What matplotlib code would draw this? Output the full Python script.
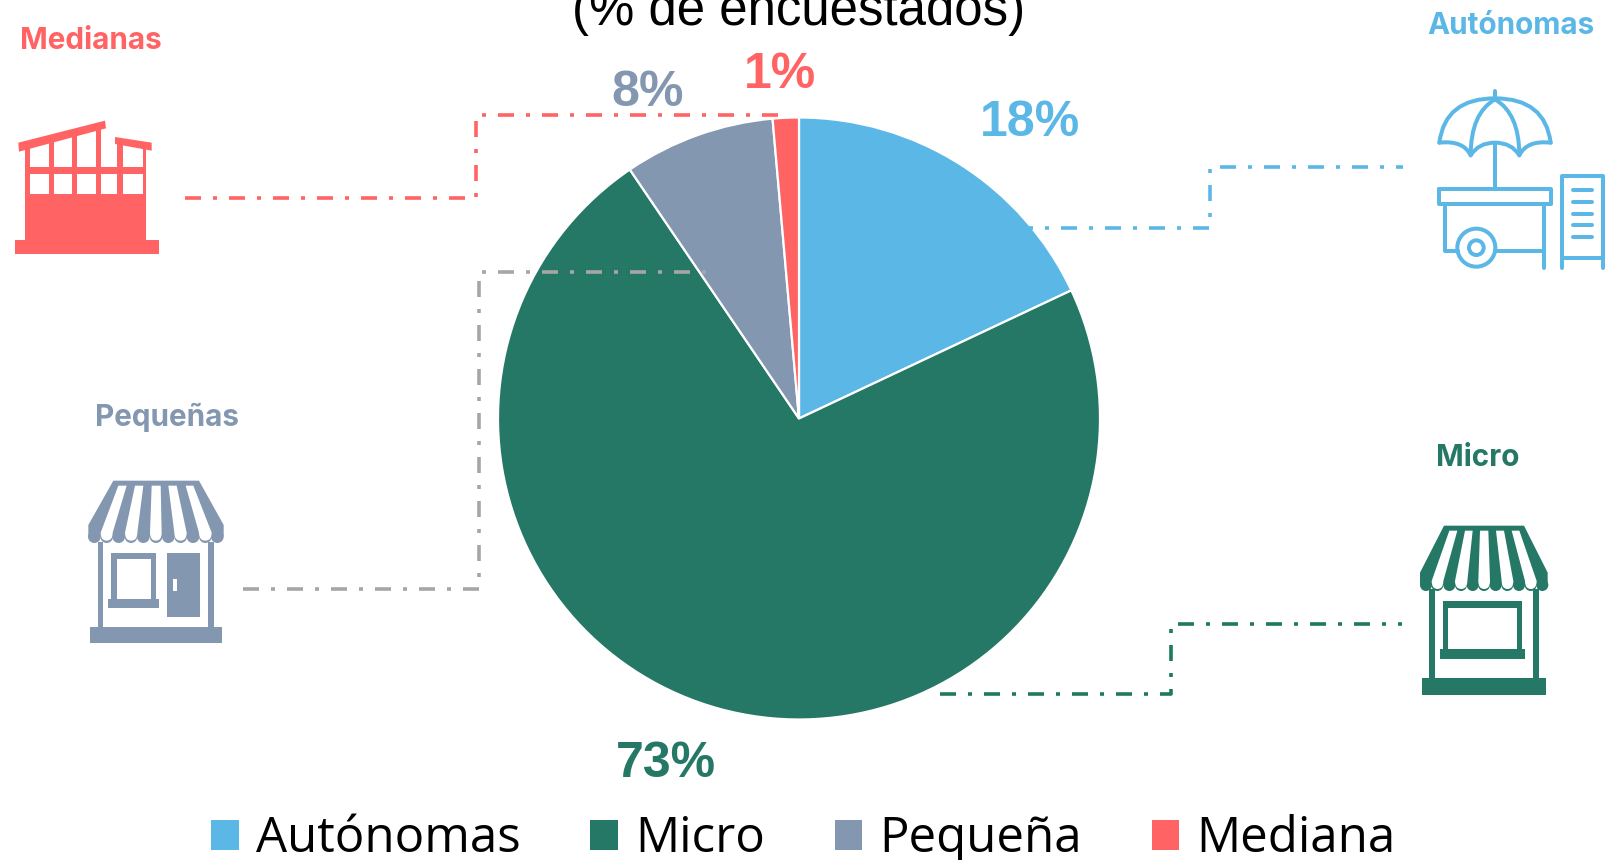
import numpy as np
import matplotlib
matplotlib.use("Agg")
import matplotlib.pyplot as plt
from matplotlib.path import Path
from matplotlib.patches import PathPatch, Polygon, Rectangle, Circle, Patch

categories = ["Autónomas", "Micro", "Pequeña", "Mediana"]
shares = [18.0, 72.5, 8.1, 1.4]
pct_labels = ["18%", "73%", "8%", "1%"]
colors = ["#5BB7E6", "#257766", "#8497B0", "#FF6363"]
title = "(% de encuestados)"

W, H = 1605, 860
fig = plt.figure(figsize=(W / 100, H / 100), dpi=100, facecolor="white")
SANS = ["Open Sans", "DejaVu Sans"]
ARIAL = ["Liberation Sans", "DejaVu Sans"]
INTER = ["Inter", "DejaVu Sans"]

# pie
cx, cy, R = 799, 418.5, 301
ax = fig.add_axes([(cx - R) / W, 1 - (cy + R) / H, 2 * R / W, 2 * R / H])
wedges, _ = ax.pie(shares, colors=colors, startangle=90, counterclock=False, radius=1,
                   wedgeprops=dict(edgecolor="white", linewidth=1.6))
ax.set_xlim(-1, 1)
ax.set_ylim(-1, 1)

# overlay in pixel coordinates
ov = fig.add_axes([0, 0, 1, 1], zorder=5)
ov.set_xlim(0, W)
ov.set_ylim(H, 0)
ov.axis("off")
ov.patch.set_alpha(0)

ov.text(799, 24.5, title, ha="center", va="baseline", fontsize=36.7, family=ARIAL, color="black")

# percentage labels
pct_pos = [(1030, 136), (666, 777), (648, 106), (780, 88)]
for s, c, p in zip(pct_labels, colors, pct_pos):
    ov.text(p[0], p[1], s, ha="center", va="baseline", fontsize=36, fontweight="bold", family=ARIAL, color=c)

# connectors
PX = 0.72
LW = 3.6 * PX
dash = (0, (16 * PX / LW, 12 * PX / LW, 4 * PX / LW, 12 * PX / LW))
conn = [
    ([185, 476, 476, 780], [198, 198, 115, 115], "#FF6363"),
    ([1017, 1209.5, 1209.5, 1403], [228, 228, 167, 167], "#5BB7E6"),
    ([243, 479, 479, 706], [589, 589, 272, 272], "#A6A6A6"),
    ([940, 1171, 1171, 1402], [694, 694, 624, 624], "#1F7A58"),
]
for xs, ys, c in conn:
    ov.plot(xs, ys, color=c, lw=LW, ls=dash, dash_capstyle="butt", solid_joinstyle="miter")

# category captions
ov.text(91, 38, "Medianas", ha="center", va="center_baseline", fontsize=21.4, fontweight="bold", family=INTER, color=colors[3])
ov.text(1511, 23, "Autónomas", ha="center", va="center_baseline", fontsize=21.4, fontweight="bold", family=INTER, color=colors[0])
ov.text(167, 414, "Pequeñas", ha="center", va="center_baseline", fontsize=21.4, fontweight="bold", family=INTER, color=colors[2])
ov.text(1478, 455, "Micro", ha="center", va="center_baseline", fontsize=21.4, fontweight="bold", family=INTER, color=colors[1])


# icons, given in zoom-crop coordinates (3x) with an offset
def mapper(ox, oy):
    return lambda x, y: (ox + x / 3, oy + y / 3)


def rect(m, x0, y0, x1, y1, c, z=6):
    a = m(x0, y0)
    b = m(x1, y1)
    ov.add_patch(Rectangle(a, b[0] - a[0], b[1] - a[1], fc=c, ec="none", zorder=z))


def poly(m, pts, c, z=6):
    ov.add_patch(Polygon([m(*p) for p in pts], closed=True, fc=c, ec="none", zorder=z))


def store(m, c, top, low, yt, ys, yb, scallops, stripes, rs):
    poly(m, [(top[0], yt), (top[1], yt), (low[1], ys), (low[1], yb), (low[0], yb), (low[0], ys)], c, 6)
    for x in scallops:
        a = m(x, yb)
        ov.add_patch(Circle(a, rs / 3, fc=c, ec="none", zorder=6))
    for (t0, t1, b0, b1) in stripes:
        p0 = m(t0, yt + 15)
        p1 = m(t1, yt + 15)
        p2 = m(b1, yb - 12)
        c1 = m(b1, yb + 12)
        p3 = m((b0 + b1) / 2, yb + 12)
        c2 = m(b0, yb + 12)
        p4 = m(b0, yb - 12)
        verts = [p0, p1, p2, c1, p3, c2, p4, p0]
        codes = [Path.MOVETO, Path.LINETO, Path.LINETO, Path.CURVE3, Path.CURVE3,
                 Path.CURVE3, Path.CURVE3, Path.CLOSEPOLY]
        ov.add_patch(PathPatch(Path(verts, codes), fc="white", ec="none", zorder=7))


# Medianas (factory)
m = mapper(0, 0)
c = colors[3]
rect(m, 44, 720, 478, 761, c)
rect(m, 76, 582, 438, 720, c)
rect(m, 76, 440, 90, 582, c)
rect(m, 428, 448, 438, 582, c)
rect(m, 76, 500, 438, 523, c)
for x0, x1, y0 in [(147, 161, 425), (217, 231, 405), (288, 304, 385), (352, 368, 430)]:
    rect(m, x0, y0, x1, 582, c)
poly(m, [(55, 428), (315, 362), (318, 385), (57, 455)], c)
poly(m, [(345, 411), (455, 428), (455, 452), (345, 432)], c)

# Pequeñas (shop with door)
m = mapper(60, 390)
c = colors[2]
store(m, c, (160, 417), (85, 491), 272, 405, 440,
      [103, 140, 176, 213, 250, 288, 325, 362, 399, 436, 472],
      [(175, 200, 122, 158), (225, 250, 195, 232), (275, 302, 270, 305),
       (325, 350, 343, 380), (377, 400, 417, 455)], 19)
rect(m, 113, 455, 130, 712, c)
rect(m, 445, 455, 463, 712, c)
rect(m, 90, 712, 485, 758, c)
rect(m, 153, 489, 288, 630, c)
rect(m, 170, 508, 273, 628, "white")
rect(m, 145, 628, 297, 653, c)
rect(m, 322, 489, 420, 682, c)
rect(m, 340, 568, 352, 602, "white")

# Micro (kiosk)
m = mapper(1380, 430)
c = colors[1]
store(m, c, (192, 432), (120, 503), 287, 428, 465,
      [138, 172, 208, 243, 278, 312, 347, 382, 417, 452, 487],
      [(208, 232, 155, 190), (255, 278, 225, 262), (300, 325, 295, 330),
       (348, 372, 365, 400), (395, 418, 435, 470)], 18)
rect(m, 147, 478, 164, 745, c)
rect(m, 460, 478, 478, 745, c)
rect(m, 127, 745, 497, 795, c)
rect(m, 189, 513, 426, 660, c)
rect(m, 205, 534, 411, 657, "white")
rect(m, 181, 657, 434, 686, c)

# Autónomas (cart)
m = mapper(1380, 0)
c = colors[0]
ILW = 4.0 * PX


def stroke(pts, codes=None):
    v = [m(*p) for p in pts]
    if codes is None:
        codes = [Path.MOVETO] + [Path.LINETO] * (len(v) - 1)
    ov.add_patch(PathPatch(Path(v, codes), fc="none", ec=c, lw=ILW, capstyle="round",
                           joinstyle="round", zorder=6))


C3 = Path.CURVE3
MV = Path.MOVETO
stroke([(345, 272), (345, 296)])
stroke([(178, 428), (195, 295), (345, 295), (495, 295), (512, 428)], [MV, C3, C3, C3, C3])
stroke([(178, 428), (250, 420), (272, 466), (295, 428), (345, 428), (395, 428), (418, 466), (440, 420), (512, 428)],
       [MV, C3, C3, C3, C3, C3, C3, C3, C3])
stroke([(345, 298), (272, 340), (272, 466)], [MV, C3, C3])
stroke([(345, 298), (418, 340), (418, 466)], [MV, C3, C3])
stroke([(345, 430), (345, 567)])
stroke([(178, 567), (512, 567), (512, 612), (178, 612), (178, 567)])
stroke([(195, 612), (195, 752), (235, 752)])
stroke([(345, 752), (492, 752)])
stroke([(492, 612), (492, 805)])
for r in (57, 22):
    ov.add_patch(Circle(m(289, 743), r / 3, fc="none", ec=c, lw=ILW, zorder=6))
stroke([(545, 805), (545, 527), (668, 527), (668, 805)])
stroke([(545, 775), (668, 775)])
for y in (571, 606, 641, 676, 711):
    stroke([(578, y), (637, y)])

# legend
handles = [Patch(fc=col, ec="none") for col in colors]
leg = fig.legend(handles, categories, ncol=4, loc="lower center", bbox_to_anchor=(0.5007, -0.005),
                 frameon=False, prop=dict(family=SANS, size=35.5), handlelength=0.56, handleheight=0.54,
                 handletextpad=0.35, columnspacing=1.41, labelcolor="black", borderpad=0, borderaxespad=0)

fig.savefig("out.png", dpi=100, facecolor="white")
